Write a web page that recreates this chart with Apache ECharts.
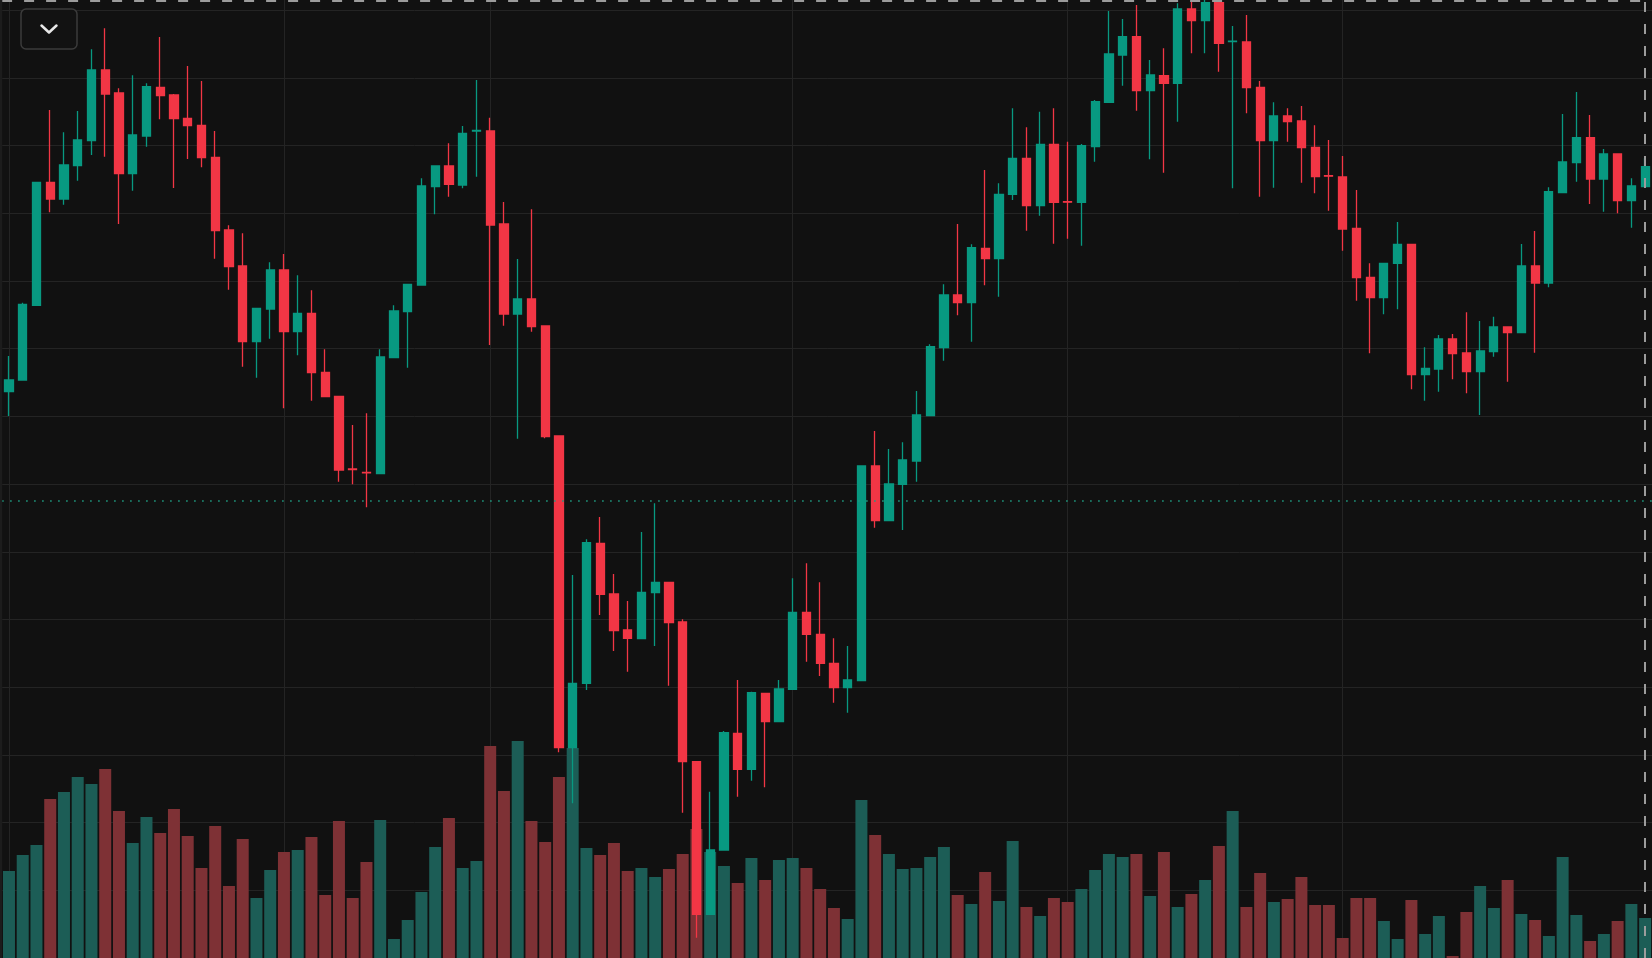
<!DOCTYPE html>
<html>
<head>
<meta charset="utf-8">
<script src="https://cdn.jsdelivr.net/npm/echarts@6/dist/echarts.min.js"></script>
<style>
html,body{margin:0;padding:0;background:#111111;overflow:hidden}
#chart{width:1652px;height:958px}
</style>
</head>
<body>
<div id="chart"></div>
<script>
// ---- data ----
const opens = [
566.3, 578, 652.7, 775.7, 759, 792.3, 817.3, 888, 865, 784.3,
822, 870.7, 863, 839.7, 832.7, 800.7, 728, 692, 616.3, 649,
688, 626.3, 644.7, 585.7, 561.7, 489, 485.7, 484.5, 600.3, 646.3,
673, 771.3, 792, 773, 827, 827, 734, 644, 659, 632,
522, 210.3, 274.7, 414.7, 364, 328, 319.3, 365.3, 375.7, 336,
196.3, 43.7, 108, 224.7, 188.7, 264.7, 236.3, 268.7, 345.7, 323.7,
294.7, 270.3, 277.3, 492, 437.3, 473.7, 497, 542.3, 610.3, 663,
655.3, 709.7, 699.3, 763.7, 799.7, 752.3, 813.7, 756.3, 755.7, 811.3,
855.7, 903, 921.3, 867.3, 882.3, 874.7, 949, 937.3, 955.3, 916.3,
916, 870.7, 817.3, 842, 837, 810.7, 782.3, 781, 729.7, 680.7,
660.3, 694.7, 713.7, 583.3, 589, 619, 605, 586.3, 606.3, 631,
625.3, 692, 675, 765.3, 795.3, 820.3, 779, 804, 757.3, 771.3
];
const closes = [
578, 653.7, 775.7, 759, 793, 818, 888, 864, 784.3, 823,
871.3, 862.3, 839.3, 832.3, 800.3, 727.3, 691.3, 616.3, 649.7, 688,
626.3, 644.7, 585.3, 561.3, 488, 488.5, 485.2, 601, 647, 673.7,
772, 792, 773.7, 824.7, 827.5, 733, 644, 659, 631.3, 521.3,
210.3, 274.7, 415.3, 363.7, 327.3, 319.7, 365.7, 375.7, 335.3, 196.3,
43.7, 108, 225.3, 188.7, 265.3, 236.3, 269, 345.7, 323.7, 294.7,
270.3, 278, 492, 437.3, 474, 498, 543, 611.3, 663, 655.3,
710.3, 699.3, 763.7, 799.7, 752.3, 813.7, 755.7, 755.8, 812.3, 856.3,
904, 921.3, 867.3, 883, 874.7, 949, 937.3, 955.3, 914.7, 916.8,
870.3, 817.3, 842, 836.3, 810.3, 781.3, 781.8, 729, 680.3, 660.3,
694.7, 713.7, 583.3, 589.7, 619, 604.3, 586.3, 607, 631, 625.3,
692, 675, 766.3, 796, 820.3, 779, 804, 757.3, 772, 791.3
];
const lows = [
542, 578, 652.7, 745.7, 753.3, 777.3, 803, 801.3, 734, 767.3,
811.3, 838.7, 770, 799, 790.7, 699.3, 668.3, 591.3, 580.3, 619.3,
549.7, 602.7, 557.3, 561.3, 476.3, 473.7, 450.7, 484.3, 600.3, 590.3,
673, 743.7, 761.3, 769.7, 781.3, 613, 632.3, 519.3, 626.3, 519.7,
205.7, 154.7, 268, 343, 307, 286.3, 319.3, 312, 272.3, 145.3,
20.3, 43.7, 108, 161.3, 177.3, 170.7, 236.3, 268.7, 296.3, 282,
255.3, 245.3, 277.3, 430.3, 437.3, 428, 476.3, 542.3, 597.3, 642.7,
616.3, 672.7, 661.3, 758, 727.3, 742.3, 714.3, 719.3, 712.3, 796.3,
855.7, 872.3, 847.3, 798.7, 785.3, 836.3, 904.7, 904.7, 886.3, 769.7,
844.7, 761.3, 770.3, 816.3, 775.3, 764.7, 747.3, 707.3, 657.3, 604.7,
643.7, 648.7, 568.7, 557.3, 566.3, 578.7, 564.7, 543, 601.3, 576.3,
625.3, 605.3, 670.7, 765.3, 776.3, 754, 746.3, 744.7, 730.3, 771.3
];
const highs = [
602, 655.3, 776.3, 848, 825.7, 847, 908.7, 929.7, 869.7, 882.7,
874.7, 921, 864, 892, 877, 827, 732.7, 724.7, 649.7, 695.7,
704, 682.7, 667.7, 608.7, 561.7, 533, 544.7, 608.7, 652.7, 673.7,
779.7, 792, 814.7, 832, 878, 840.3, 756, 699, 748.7, 632,
522, 383, 418.7, 441, 384, 357, 426, 454.7, 375.7, 338.7,
196.3, 166.3, 227, 278, 266.3, 264.7, 278, 379.7, 394.7, 375.7,
319.7, 312, 492, 527, 509, 515.7, 567, 613.7, 673.7, 734,
713.7, 788, 774.7, 849.7, 830.7, 846.3, 849.7, 816.3, 814, 858,
947, 939, 953, 898, 909.7, 954.7, 961, 963, 963, 932,
943, 877, 855.7, 849.7, 852, 832.7, 818, 802, 768, 694.7,
694.7, 736, 713.7, 610.7, 623, 624, 645.7, 637, 641.3, 631,
714, 727, 770.7, 844, 866, 843, 809, 804, 779.7, 799.7
];
const volumes = [
87, 103, 113, 159, 166, 181, 174, 189, 147, 115,
141, 125, 149, 122, 90, 132, 72, 119, 60, 88,
106, 108, 121, 63, 137, 60, 96, 138, 19, 38,
66, 111, 140, 90, 97, 212, 167, 217, 137, 116,
181, 210, 110, 103, 115, 87, 90, 81, 89, 104,
129, 106, 92, 75, 100, 78, 98, 100, 90, 69,
50, 39, 158, 123, 104, 89, 90, 101, 111, 63,
54, 86, 57, 117, 51, 42, 60, 56, 69, 88,
104, 101, 104, 62, 106, 51, 64, 78, 112, 147,
51, 85, 56, 59, 81, 53, 53, 20, 60, 60,
37, 19, 58, 24, 42, 2, 46, 72, 50, 78,
44, 38, 22, 101, 43, 17, 24, 37, 54, 40
];
const categories = opens.map((_, i) => 'Bar ' + (i + 1));
const timeGridBars = [0, 20, 35, 57, 77, 97];
const priceLineLevel = 457.4;
const crosshairBar = 119;
const crosshairPrice = 957;

// ---- styles ----
const UP = '#089981', DOWN = '#f23645';
const UP_VOL = '#1c5d56', DOWN_VOL = '#7e3135';
const GRID = '#242424';

const chart = echarts.init(document.getElementById('chart'), null, {renderer: 'canvas'});
chart.setOption({
  backgroundColor: '#111111',
  animation: false,
  grid: {left: 2.1, top: 0, width: 1652.4, height: 958},
  xAxis: {
    type: 'category', data: categories, boundaryGap: true,
    axisLine: {show: false}, axisTick: {show: false}, axisLabel: {show: false},
    splitLine: {show: false}
  },
  yAxis: [
    {
      type: 'value', min: 0, max: 958, interval: 67.7,
      axisLine: {show: false}, axisTick: {show: false}, axisLabel: {show: false},
      splitLine: {show: true, showMinLine: false, showMaxLine: false, lineStyle: {color: GRID, width: 1}}
    },
    {
      type: 'value', min: 0, max: 958,
      axisLine: {show: false}, axisTick: {show: false}, axisLabel: {show: false},
      splitLine: {show: false}
    }
  ],
  series: [
    {
      type: 'bar', name: 'Volume', yAxisIndex: 1, barWidth: 12, silent: true, z: 1,
      data: volumes.map((v, i) => ({value: v, itemStyle: {color: closes[i] >= opens[i] ? UP_VOL : DOWN_VOL}})),
      markLine: {
        silent: true, symbol: 'none', z: 0, label: {show: false},
        lineStyle: {color: GRID, width: 1, type: 'solid'},
        data: timeGridBars.map(i => ({xAxis: i}))
      }
    },
    {
      type: 'candlestick', name: 'Price', barWidth: 8.7, z: 3,
      data: opens.map((o, i) => [o, closes[i], lows[i], highs[i]]),
      itemStyle: {color: UP, color0: DOWN, borderColor: UP, borderColor0: DOWN, borderWidth: 1.3},
      markLine: {
        silent: true, symbol: 'none', z: 10, label: {show: false},
        data: [
          {yAxis: priceLineLevel, lineStyle: {color: '#1f9a80', width: 1.6, type: [1.6, 6.4]}},
          {xAxis: crosshairBar, lineStyle: {color: '#9c9c9c', width: 2, type: [10, 12]}},
          {yAxis: crosshairPrice, lineStyle: {color: '#9c9c9c', width: 2, type: [10, 12]}}
        ]
      }
    }
  ],
  graphic: [
    {type: 'rect', left: 0, top: 0, z: 100, shape: {x: 0, y: 0, width: 2.2, height: 958}, style: {fill: '#1c1c1c'}},
    {type: 'rect', z: 100, shape: {x: 21, y: 9, width: 56, height: 40, r: 5},
     style: {fill: '#121212', stroke: '#3b3b3b', lineWidth: 1.5}},
    {type: 'polyline', z: 101, shape: {points: [[41.5, 25.5], [49, 32.5], [56.5, 25.5]]},
     style: {fill: null, stroke: '#e8e8e8', lineWidth: 2.5, lineCap: 'round', lineJoin: 'round'}}
  ]
});
</script>
</body>
</html>
